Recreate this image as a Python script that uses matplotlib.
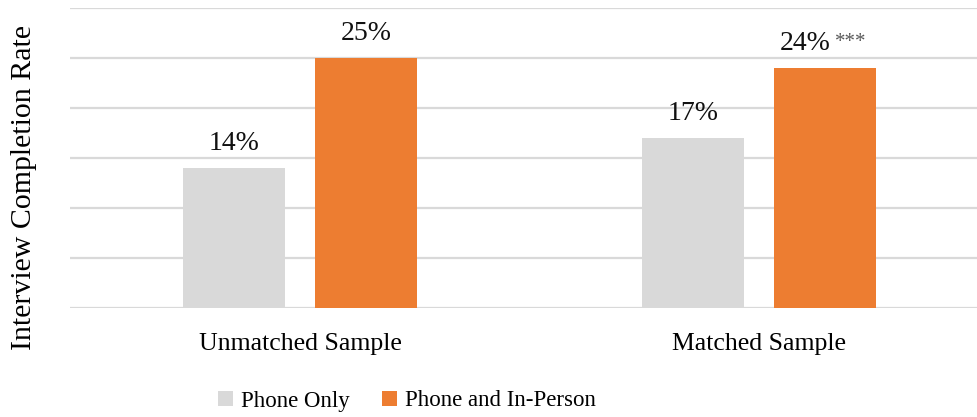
import matplotlib.pyplot as plt
import numpy as np

# Interview completion rate by sample and contact mode (percent)
samples = ["Unmatched Sample", "Matched Sample"]
series_names = ["Phone Only", "Phone and In-Person"]
phone_only = [14, 17]
phone_in_person = [25, 24]
significance = ["", "***"]

GRAY = "#D9D9D9"
ORANGE = "#ED7D31"
GRID = "#D9D9D9"

plt.rcParams["font.family"] = ["Liberation Serif", "DejaVu Serif"]

fig = plt.figure(figsize=(9.77, 4.17), dpi=100)
ax = fig.add_axes([70 / 977, 109 / 417, 907 / 977, 300 / 417])

x = np.arange(len(samples))
width = 0.222
offset = 0.1435

bars_a = ax.bar(x - offset, phone_only, width, color=GRAY, label=series_names[0], zorder=2)
bars_b = ax.bar(x + offset, phone_in_person, width, color=ORANGE, label=series_names[1], zorder=2)

ax.set_xlim(-0.501, 1.475)
ax.set_ylim(0, 30)
ax.set_yticks(np.arange(0, 31, 5))
ax.yaxis.grid(True, color=GRID, lw=1.6, zorder=0)
ax.tick_params(axis="y", length=0, labelleft=False)
ax.tick_params(axis="x", length=0, pad=18, labelsize=18.5)
ax.set_xticks(x)
ax.set_xticklabels(samples)
for s in ax.spines.values():
    s.set_visible(False)

label_kw = dict(textcoords="offset points", va="bottom", fontsize=20, color="#111111")

# value labels above the bars; a star suffix shifts the pair so it stays centred
for bars, stars in ((bars_a, ["", ""]), (bars_b, significance)):
    for b, star in zip(bars, stars):
        top = (b.get_x() + b.get_width() / 2, b.get_height())
        text = f"{b.get_height():.0f}%"
        if star:
            ax.annotate(text, top, xytext=(4, 9), ha="right", **label_kw)
            ax.annotate(star, top, xytext=(7, 11.5), ha="left", textcoords="offset points",
                        va="bottom", fontsize=15, color="#595959")
        else:
            ax.annotate(text, top, xytext=(0, 9), ha="center", **label_kw)

fig.text(24 / 977, 1 - 187 / 417, "Interview Completion Rate", rotation=90,
         ha="center", va="center", fontsize=21.5)

fig.legend(loc="center", bbox_to_anchor=(407 / 977, 1 - 401 / 417), ncol=2, frameon=False,
           fontsize=16.5, handlelength=0.65, handleheight=0.65, handletextpad=0.35,
           columnspacing=1.4)

fig.savefig("out.png", dpi=100)
